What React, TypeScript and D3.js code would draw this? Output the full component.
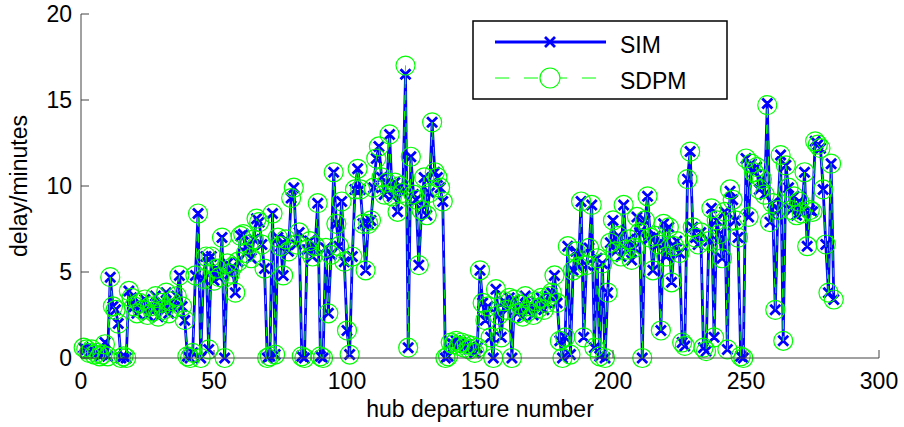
import React from "react";
import * as d3 from "d3";

const xTicks = [0, 50, 100, 150, 200, 250, 300];
const yTicks = [0, 5, 10, 15, 20];
const seriesNames = ["SIM", "SDPM"];

const simValues = [
  0.6, 0.5, 0.3, 0.5, 0.2, 0.3, 0.1, 0.2, 0.9, 0.1,
  4.7, 3.0, 2.8, 2.0, 0.0, 0.1, 0.0, 3.9, 3.5, 3.0,
  2.6, 3.2, 2.8, 3.4, 2.5, 3.0, 2.7, 3.6, 2.4, 3.2,
  2.8, 3.8, 2.6, 3.3, 2.9, 3.6, 4.8, 3.0, 2.2, 0.1,
  0.0, 0.3, 4.8, 8.4, 0.0, 4.6, 5.9, 0.5, 5.9, 4.5,
  5.2, 4.7, 7.0, 0.0, 5.5, 4.9, 5.3, 3.8, 5.6, 7.1,
  7.2, 6.1, 6.6, 5.8, 6.9, 8.1, 7.9, 6.6, 5.2, 0.0,
  0.1, 8.4, 0.2, 7.0, 6.5, 4.8, 6.9, 6.2, 9.3, 9.9,
  6.6, 7.3, 0.1, 0.0, 6.3, 6.8, 5.9, 6.5, 9.0, 0.1,
  0.0, 6.4, 2.6, 6.0, 10.8, 7.8, 6.5, 9.1, 5.6, 1.6,
  0.2, 5.9, 9.8, 11.0, 9.8, 7.8, 5.1, 7.8, 8.0, 9.9,
  11.6, 12.3, 10.5, 9.5, 10.2, 13.0, 9.4, 10.2, 8.5, 10.0,
  9.6, 16.5, 0.6, 11.7, 9.5, 9.2, 5.4, 8.6, 10.5, 8.3,
  9.6, 13.7, 10.8, 10.5, 9.9, 9.1, 0.0, 0.1, 0.9, 0.8,
  1.0, 0.7, 0.9, 0.6, 0.8, 0.5, 0.7, 0.3, 0.6, 5.1,
  3.2, 2.2, 3.0, 1.2, 0.0, 4.0, 2.5, 1.2, 3.3, 2.8,
  3.5, 0.0, 3.4, 2.6, 3.1, 2.4, 3.6, 2.7, 3.0, 2.5,
  3.3, 2.9, 3.5, 2.8, 3.2, 3.6, 3.8, 4.8, 3.2, 1.0,
  0.0, 1.2, 6.5, 0.2, 5.1, 6.2, 5.3, 9.1, 1.2, 5.4,
  6.4, 8.9, 0.6, 5.8, 0.1, 5.5, 0.0, 3.8, 6.7, 8.0,
  6.2, 7.1, 5.9, 8.9, 6.3, 6.9, 5.7, 6.4, 8.2, 7.3,
  0.0, 8.0, 9.4, 7.0, 5.1, 7.1, 6.6, 1.6, 7.8, 5.9,
  7.6, 4.4, 6.5, 6.8, 6.1, 0.9, 0.7, 10.4, 12.0, 7.6,
  7.0, 6.6, 7.3, 0.6, 0.4, 6.8, 8.7, 1.2, 8.0, 7.2,
  5.8, 8.5, 0.5, 9.7, 9.2, 8.0, 7.0, 0.1, 0.0, 11.6,
  8.2, 11.3, 10.8, 11.1, 9.8, 10.4, 9.5, 14.8, 7.9, 9.0,
  2.8, 8.6, 11.8, 1.0, 11.2, 9.9, 8.6, 9.4, 8.3, 9.1,
  8.4, 10.8, 6.5, 8.6, 8.5, 12.6, 12.4, 12.2, 9.8, 6.6,
  3.8, 11.3, 3.4,
];

const sdpmValues = [
  0.6, 0.5, 0.3, 0.5, 0.2, 0.3, 0.1, 0.2, 0.8, 0.1,
  4.7, 3.0, 2.8, 2.0, 0.0, 0.1, 0.0, 3.9, 3.5, 3.0,
  2.6, 3.2, 2.8, 3.4, 2.5, 3.0, 2.7, 3.6, 2.4, 3.2,
  2.8, 3.8, 2.6, 3.3, 2.9, 3.6, 4.8, 3.0, 2.2, 0.1,
  0.0, 0.3, 4.8, 8.4, 0.0, 4.6, 5.9, 0.5, 5.9, 4.5,
  5.2, 4.7, 7.0, 0.0, 5.5, 4.9, 5.3, 3.8, 5.6, 7.1,
  7.2, 6.1, 6.6, 5.8, 6.9, 8.1, 7.9, 6.6, 5.2, 0.0,
  0.1, 8.4, 0.2, 7.0, 6.5, 4.8, 6.9, 6.2, 9.3, 9.9,
  6.6, 7.3, 0.1, 0.0, 6.3, 6.8, 5.9, 6.5, 9.0, 0.1,
  0.0, 6.4, 2.6, 6.0, 10.8, 7.8, 6.5, 9.1, 5.6, 1.6,
  0.2, 5.9, 9.8, 11.0, 9.8, 7.8, 5.1, 7.8, 8.0, 9.9,
  11.6, 12.3, 10.5, 9.5, 10.2, 13.0, 9.4, 10.2, 8.5, 10.0,
  9.6, 17.0, 0.6, 11.7, 9.5, 9.2, 5.4, 8.6, 10.5, 8.3,
  9.6, 13.7, 10.8, 10.5, 9.9, 9.1, 0.0, 0.1, 0.9, 0.8,
  1.0, 0.7, 0.9, 0.6, 0.8, 0.5, 0.7, 0.3, 0.6, 5.1,
  3.2, 2.2, 3.0, 1.2, 0.0, 4.0, 2.5, 1.2, 3.3, 2.8,
  3.5, 0.0, 3.4, 2.6, 3.1, 2.4, 3.6, 2.7, 3.0, 2.5,
  3.3, 2.9, 3.5, 2.8, 3.2, 3.6, 3.8, 4.8, 3.2, 1.0,
  0.0, 1.2, 6.5, 0.2, 5.1, 6.2, 5.3, 9.1, 1.2, 5.4,
  6.4, 8.9, 0.6, 5.8, 0.1, 5.5, 0.0, 3.8, 6.7, 8.0,
  6.2, 7.1, 5.9, 8.9, 6.3, 6.9, 5.7, 6.4, 8.2, 7.3,
  0.0, 8.0, 9.4, 7.0, 5.1, 7.1, 6.6, 1.6, 7.8, 5.9,
  7.6, 4.4, 6.5, 6.8, 6.1, 0.9, 0.7, 10.4, 12.0, 7.6,
  7.0, 6.6, 7.3, 0.6, 0.4, 6.8, 8.7, 1.2, 8.0, 7.2,
  5.8, 8.5, 0.5, 9.8, 9.2, 8.0, 7.0, 0.1, 0.0, 11.6,
  8.2, 11.3, 10.8, 11.1, 9.8, 10.4, 9.5, 14.7, 7.9, 9.0,
  2.8, 8.6, 11.8, 1.0, 11.2, 9.9, 8.6, 9.4, 8.3, 9.1,
  8.4, 10.8, 6.5, 8.6, 8.5, 12.6, 12.4, 12.2, 9.8, 6.6,
  3.8, 11.3, 3.4,
];

const W = 904;
const H = 427;
const left = 81;
const right = 879;
const top = 14;
const bottom = 358;
const FONT = "'Liberation Sans', Arial, Helvetica, sans-serif";
const BLUE = "#0000ff";
const GREEN = "#00ff00";

export default function App() {
  const x = d3.scaleLinear().domain([0, 300]).range([left, right]);
  const y = d3.scaleLinear().domain([0, 20]).range([bottom, top]);

  const sim = simValues.map((v, i) => [i + 1, v] as [number, number]);
  const sdpm = sdpmValues.map((v, i) => [i + 1, v] as [number, number]);

  const line = d3
    .line<[number, number]>()
    .x((d) => x(d[0]))
    .y((d) => y(d[1]));

  const xMark = (cx: number, cy: number, s = 5) =>
    `M${cx - s},${cy - s}L${cx + s},${cy + s}M${cx - s},${cy + s}L${cx + s},${cy - s}`;

  const simMarks = sim.map((d) => xMark(x(d[0]), y(d[1]))).join("");

  const lgX = 473;
  const lgY = 21;
  const lgW = 254;
  const lgH = 78;

  return (
    <div style={{ position: "fixed", left: 0, top: 0 }}>
      <svg width={W} height={H} style={{ display: "block", background: "#fff" }}>
        <rect x={0} y={0} width={W} height={H} fill="#fff" />
        {/* SIM */}
        <path d={line(sim) || ""} fill="none" stroke={BLUE} strokeWidth={2.8} strokeLinejoin="round" />
        <path d={simMarks} fill="none" stroke={BLUE} strokeWidth={2.8} />
        {/* SDPM */}
        <path d={line(sdpm) || ""} fill="none" stroke={GREEN} strokeWidth={1} strokeDasharray="9 7" />
        {sdpm.map((d, i) => (
          <circle key={i} cx={x(d[0])} cy={y(d[1])} r={9.5} fill="none" stroke={GREEN} strokeWidth={1.2} />
        ))}

        {/* axes */}
        <g stroke="#444" strokeWidth={1} fill="none">
          <line x1={left} y1={top} x2={left} y2={bottom} />
          <line x1={left} y1={bottom} x2={right} y2={bottom} />
          {xTicks.map((t) => (
            <line key={"xt" + t} x1={x(t)} x2={x(t)} y1={bottom} y2={bottom - 8} />
          ))}
          {yTicks.map((t) => (
            <line key={"yt" + t} x1={left} x2={left + 8} y1={y(t)} y2={y(t)} />
          ))}
        </g>
        <g fontFamily={FONT} fontSize={23} fill="#000">
          {xTicks.map((t) => (
            <text key={"xl" + t} x={x(t)} y={389} textAnchor="middle">
              {t}
            </text>
          ))}
          {yTicks.map((t) => (
            <text key={"yl" + t} x={72} y={y(t) + 8} textAnchor="end">
              {t}
            </text>
          ))}
          <text x={(left + right) / 2} y={417} textAnchor="middle">
            hub departure number
          </text>
          <text transform={`translate(27,${(top + bottom) / 2}) rotate(-90)`} textAnchor="middle">
            delay/minutes
          </text>
        </g>

        {/* legend */}
        <g>
          <rect x={lgX} y={lgY} width={lgW} height={lgH} fill="#fff" stroke="#000" strokeWidth={1.5} />
          <line x1={495} x2={606} y1={42} y2={42} stroke={BLUE} strokeWidth={2.8} />
          <path d={xMark(550, 42)} stroke={BLUE} strokeWidth={2.8} fill="none" />
          <line x1={495} x2={606} y1={78} y2={78} stroke={GREEN} strokeWidth={1} strokeDasharray="14 15" />
          <circle cx={550} cy={78} r={10} fill="#fff" stroke={GREEN} strokeWidth={1.2} />
          <g fontFamily={FONT} fontSize={23} fill="#000">
            <text x={620} y={53}>{seriesNames[0]}</text>
            <text x={620} y={89}>{seriesNames[1]}</text>
          </g>
        </g>
      </svg>
    </div>
  );
}
